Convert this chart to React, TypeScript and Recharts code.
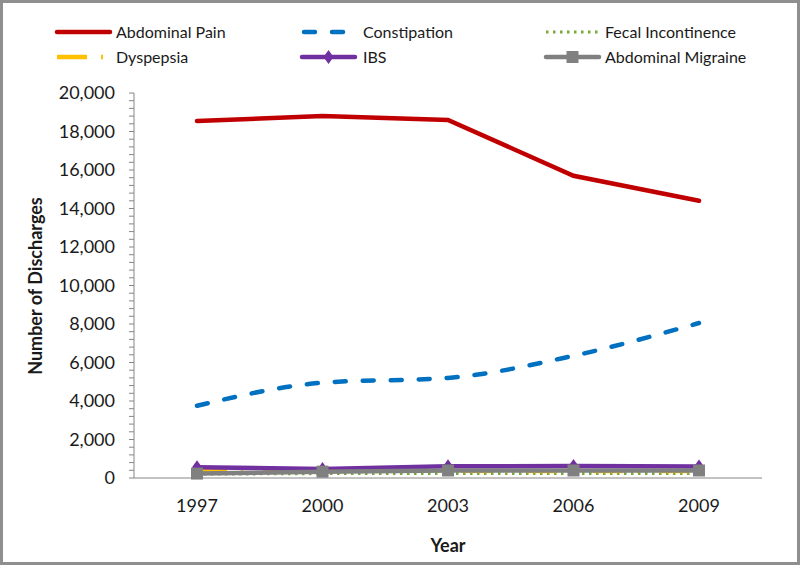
import React from 'react';
import { LineChart, Line, XAxis, YAxis } from 'recharts';

const years = ['1997', '2000', '2003', '2006', '2009'];
const abdominalPain = [18550, 18800, 18600, 15700, 14400];
const constipation = [3750, 4950, 5200, 6350, 8050];
const fecalIncontinence = [200, 230, 230, 230, 230];
const dyspepsia = [420, 360, 360, 350, 350];
const ibs = [560, 470, 610, 620, 600];
const abdominalMigraine = [230, 330, 390, 390, 390];
const majorTicks = [0, 2000, 4000, 6000, 8000, 10000, 12000, 14000, 16000, 18000, 20000];
const minorStep = 400;

const FONT = 'Lato, "Open Sans", sans-serif';

const data = years.map((y, i) => ({
  year: y,
  abdominalPain: abdominalPain[i],
  constipation: constipation[i],
  fecalIncontinence: fecalIncontinence[i],
  dyspepsia: dyspepsia[i],
  ibs: ibs[i],
  abdominalMigraine: abdominalMigraine[i],
}));

const allTicks: number[] = [];
for (let v = 0; v <= 20000; v += minorStep) allTicks.push(v);

const Diamond = (props: any) => {
  const { cx, cy } = props;
  if (cx == null || cy == null) return null;
  return <path key={`d${cx}`} d={`M${cx},${cy - 7} L${cx + 5},${cy} L${cx},${cy + 7} L${cx - 5},${cy} Z`} fill="#7030A0" />;
};

const Square = (props: any) => {
  const { cx, cy } = props;
  if (cx == null || cy == null) return null;
  return <rect key={`s${cx}`} x={cx - 6} y={cy - 6} width={12} height={12} fill="#808080" />;
};

const YTick = (props: any) => {
  const { x, y, payload } = props;
  const v = payload.value;
  if (v % 2000 !== 0) return null;
  return (
    <text x={x} y={y} dy={6} textAnchor="end" fontSize={18} fontFamily={FONT} fill="#1a1a1a">
      {v.toLocaleString('en-US')}
    </text>
  );
};

const legendItems = [
  { name: 'Abdominal Pain', col: 0, row: 0, kind: 'solid', color: '#C00000' },
  { name: 'Constipation', col: 1, row: 0, kind: 'dash', color: '#0070C0' },
  { name: 'Fecal Incontinence', col: 2, row: 0, kind: 'dot', color: '#77A83A' },
  { name: 'Dyspepsia', col: 0, row: 1, kind: 'dashdot', color: '#FFC000' },
  { name: 'IBS', col: 1, row: 1, kind: 'diamond', color: '#7030A0' },
  { name: 'Abdominal Migraine', col: 2, row: 1, kind: 'square', color: '#808080' },
];
const colX = [57, 302, 546];
const rowY = [32, 57];

const LegendOverlay = () => (
  <svg width={800} height={80} style={{ position: 'absolute', left: 0, top: 0 }}>
    {legendItems.map((it) => {
      const x0 = colX[it.col];
      const y = rowY[it.row];
      const x1 = x0 + 53;
      let mark: React.ReactNode = null;
      if (it.kind === 'solid') {
        mark = <line x1={x0} y1={y} x2={x1} y2={y} stroke={it.color} strokeWidth={4.5} strokeLinecap="round" />;
      } else if (it.kind === 'dash') {
        mark = <line x1={x0 + 2} y1={y} x2={x1 - 5} y2={y} stroke={it.color} strokeWidth={4.5} strokeLinecap="round" strokeDasharray="11 17" />;
      } else if (it.kind === 'dot') {
        mark = <line x1={x0} y1={y} x2={x1} y2={y} stroke={it.color} strokeWidth={3} strokeDasharray="2.5 4.5" />;
      } else if (it.kind === 'dashdot') {
        mark = <line x1={x0} y1={y} x2={x1} y2={y} stroke={it.color} strokeWidth={4.5} strokeDasharray="30 14 2 20" />;
      } else if (it.kind === 'diamond') {
        mark = (
          <g>
            <line x1={x0} y1={y} x2={x1} y2={y} stroke={it.color} strokeWidth={4.5} strokeLinecap="round" />
            <Diamond cx={(x0 + x1) / 2} cy={y} />
          </g>
        );
      } else {
        mark = (
          <g>
            <line x1={x0} y1={y} x2={x1} y2={y} stroke={it.color} strokeWidth={4.5} strokeLinecap="round" />
            <Square cx={(x0 + x1) / 2} cy={y} />
          </g>
        );
      }
      return (
        <g key={it.name}>
          {mark}
          <text x={x0 + (it.col === 1 ? 61 : 59)} y={y + 6} fontSize={16} fontFamily={FONT} fill="#1a1a1a">
            {it.name}
          </text>
        </g>
      );
    })}
  </svg>
);

export default function App() {
  return (
    <div style={{ position: 'absolute', left: 0, top: 0, width: 800, height: 565, background: '#fff', fontFamily: FONT }}>
      <LineChart width={800} height={565} data={data} margin={{ top: 93, right: 38, bottom: 0, left: 0 }}>
        <XAxis
          dataKey="year"
          padding={{ left: 63, right: 63 }}
          tickLine={false}
          tickSize={0}
          tickMargin={21}
          height={87}
          stroke="#868686"
          tick={{ fontSize: 18, fontFamily: FONT, fill: '#1a1a1a' }}
          label={{
            content: () => (
              <text x={448} y={552} textAnchor="middle" fontSize={18} fontWeight="bold" fontFamily={FONT} fill="#1a1a1a">
                Year
              </text>
            ),
          }}
        />
        <YAxis
          width={134}
          domain={[0, 20000]}
          ticks={allTicks}
          interval={0}
          tickSize={5}
          tickMargin={14}
          stroke="#868686"
          tick={<YTick />}
          label={{
            content: () => (
              <text
                transform="translate(42,286) rotate(-90)"
                textAnchor="middle"
                fontSize={18}
                fontWeight="bold"
                fontFamily={FONT}
                fill="#1a1a1a"
              >
                Number of Discharges
              </text>
            ),
          }}
        />
        <Line dataKey="abdominalPain" type="linear" stroke="#C00000" strokeWidth={4.5} dot={false} isAnimationActive={false} strokeLinecap="round" />
        <Line dataKey="constipation" type="monotone" stroke="#0070C0" strokeWidth={4.5} strokeDasharray="11 17" strokeLinecap="round" dot={false} isAnimationActive={false} />
        <Line dataKey="fecalIncontinence" type="linear" stroke="#77A83A" strokeWidth={3} strokeDasharray="2.5 4.5" dot={false} isAnimationActive={false} />
        <Line dataKey="dyspepsia" type="linear" stroke="#FFC000" strokeWidth={4} strokeDasharray="30 14 2 20" dot={false} isAnimationActive={false} />
        <Line dataKey="ibs" type="linear" stroke="#7030A0" strokeWidth={4.5} dot={<Diamond />} isAnimationActive={false} />
        <Line dataKey="abdominalMigraine" type="linear" stroke="#808080" strokeWidth={4.5} dot={<Square />} isAnimationActive={false} />
      </LineChart>
      <LegendOverlay />
      <div style={{ position: 'absolute', left: 0, top: 0, width: 800, height: 565, boxSizing: 'border-box', border: '3px solid #8f8f8f', pointerEvents: 'none' }} />
    </div>
  );
}
